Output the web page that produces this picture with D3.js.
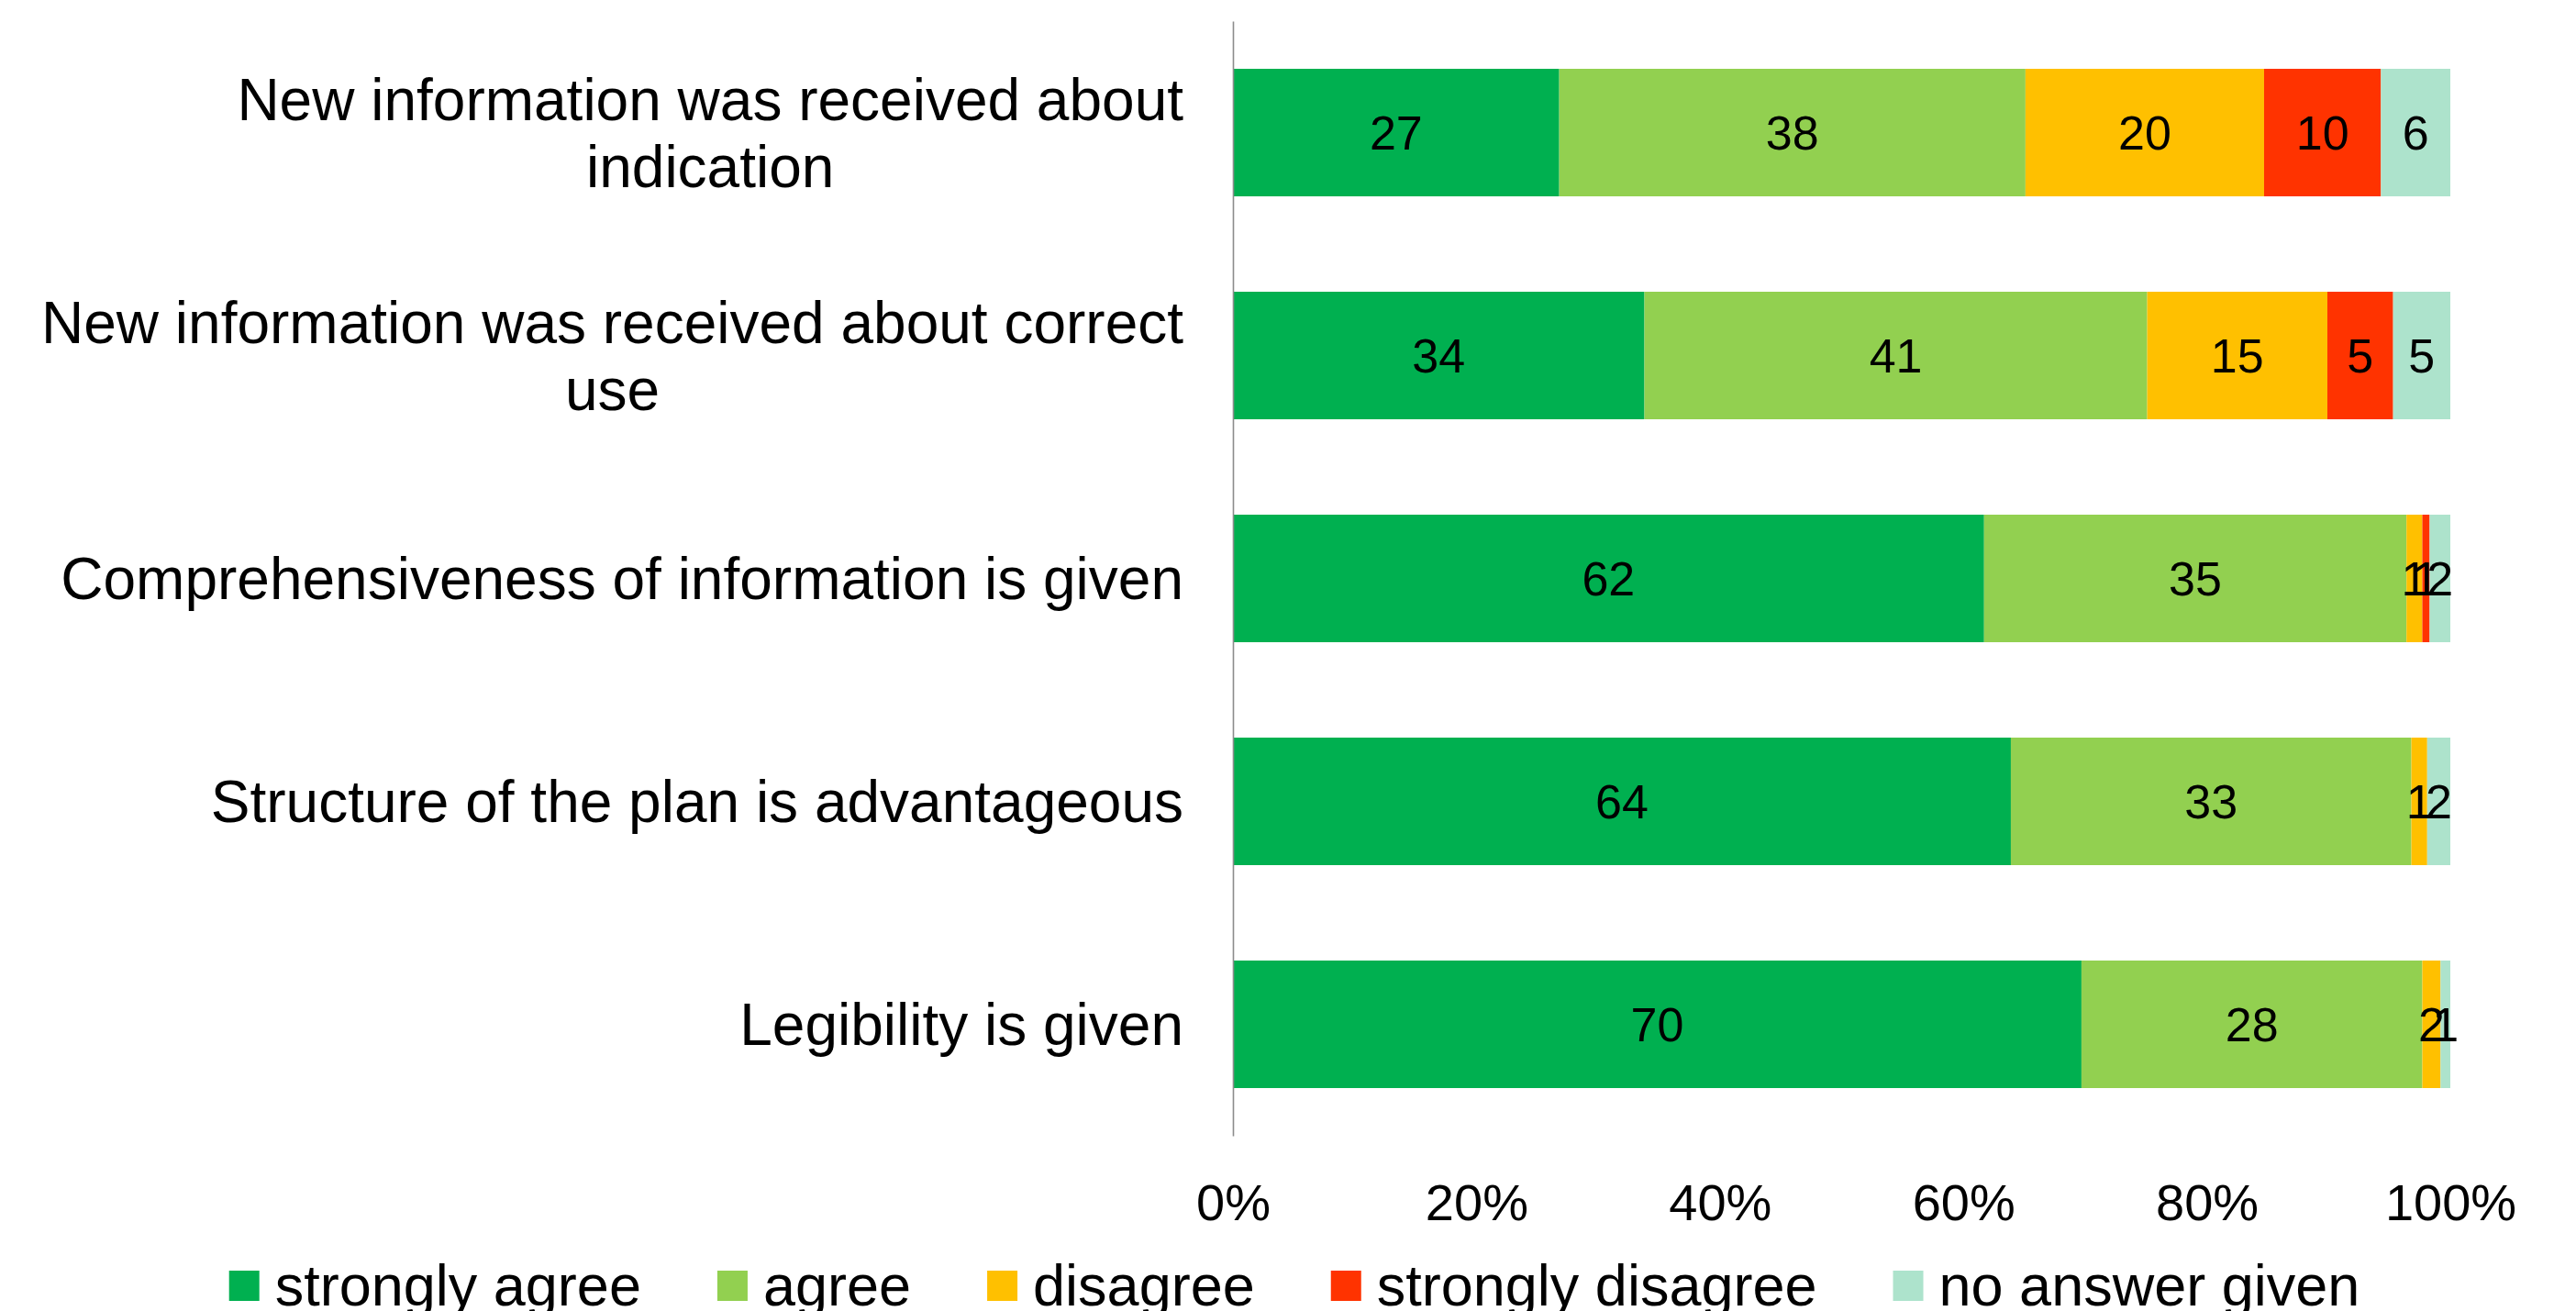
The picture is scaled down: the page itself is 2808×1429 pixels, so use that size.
<!DOCTYPE html>
<html>
<head>
<meta charset="utf-8">
<script src="https://cdn.jsdelivr.net/npm/d3@7"></script>
<style>
  html, body { margin: 0; padding: 0; background: #fff; }
  svg { display: block; }
  text { font-family: "Liberation Sans", Arial, Helvetica, sans-serif; fill: #000; }
</style>
</head>
<body>
<svg id="chart" width="2808" height="1429"></svg>
<script>
// ---- data ----
const categories = [
  "New information was received about indication",
  "New information was received about correct use",
  "Comprehensiveness of information is given",
  "Structure of the plan is advantageous",
  "Legibility is given"
];
const seriesNames = ["strongly agree", "agree", "disagree", "strongly disagree", "no answer given"];
const stronglyAgree    = [26.8, 33.8, 61.7, 63.9, 69.7];
const agree            = [38.3, 41.3, 34.7, 32.9, 28.0];
const disagree         = [19.6, 14.8, 1.3, 1.3, 1.5];
const stronglyDisagree = [9.6, 5.4, 0.6, 0, 0];
const noAnswer         = [5.7, 4.7, 1.7, 1.9, 0.8];
const seriesColors = ["#00B050", "#92D050", "#FFC000", "#FF3300", "#ADE3CC"];
const tickValues = [0, 0.2, 0.4, 0.6, 0.8, 1.0];
const tickLabels = ["0%", "20%", "40%", "60%", "80%", "100%"];

const seriesValues = [stronglyAgree, agree, disagree, stronglyDisagree, noAnswer];

// ---- build table ----
const rows = categories.map((c, i) => {
  const r = { category: c };
  seriesNames.forEach((s, j) => { r[s] = seriesValues[j][i]; });
  return r;
});
const totals = rows.map(r => d3.sum(seriesNames, s => r[s]));
const norm = rows.map((r, i) => {
  const o = { category: r.category };
  seriesNames.forEach(s => { o[s] = r[s] / totals[i]; });
  return o;
});
const stacked = d3.stack().keys(seriesNames)(norm);

// ---- layout ----
const svg = d3.select("#chart");
const x = d3.scaleLinear().domain([0, 1]).range([1344, 2671]);
const y = d3.scaleBand().domain(categories).range([23, 1238])
  .paddingInner(0.428).paddingOuter(0.214);
const color = d3.scaleOrdinal().domain(seriesNames).range(seriesColors);

// bars
const layers = svg.append("g").selectAll("g").data(stacked).join("g")
  .attr("fill", d => color(d.key));
layers.selectAll("rect").data(d => d).join("rect")
  .attr("x", d => x(d[0]))
  .attr("y", d => y(d.data.category))
  .attr("width", d => Math.max(0, x(d[1]) - x(d[0])))
  .attr("height", y.bandwidth());

// data labels
const labelG = svg.append("g");
stacked.forEach((layer, j) => {
  layer.forEach((d, i) => {
    const raw = seriesValues[j][i];
    if (raw <= 0) return;
    labelG.append("text")
      .attr("x", x((d[0] + d[1]) / 2))
      .attr("y", y(d.data.category) + y.bandwidth() / 2)
      .attr("dy", "0.36em")
      .attr("text-anchor", "middle")
      .style("font-size", "52px")
      .text(Math.round(raw));
  });
});

// y axis line
const yAxis = d3.axisLeft(y).tickSize(0).tickSizeOuter(0).tickFormat("");
const yg = svg.append("g").attr("transform", `translate(${x(0)},0)`).call(yAxis);
yg.select(".domain").attr("stroke", "#8c8c8c").attr("stroke-width", 1.6);

// x axis labels
const xAxis = d3.axisBottom(x).tickValues(tickValues)
  .tickFormat((d, i) => tickLabels[i]).tickSize(0);
const xg = svg.append("g").attr("transform", "translate(0,1238)").call(xAxis);
xg.select(".domain").remove();
xg.selectAll("text")
  .attr("y", 92).attr("dy", 0)
  .style("font-size", "56px")
  .style("font-family", '"Liberation Sans", Arial, sans-serif')
  .attr("fill", "#000");

// category labels (wrapped, lines centred, block right-aligned)
const catFont = 64, lineH = 73, rightEdge = 1290, maxW = 1275;
const measure = svg.append("text").style("font-size", catFont + "px");
function textW(t) { measure.text(t); return measure.node().getComputedTextLength(); }
categories.forEach(c => {
  const words = c.split(" ");
  const lines = [];
  let cur = "";
  words.forEach(w => {
    const test = cur ? cur + " " + w : w;
    if (cur && textW(test) > maxW) { lines.push(cur); cur = w; }
    else cur = test;
  });
  if (cur) lines.push(cur);
  const widths = lines.map(textW);
  const W = d3.max(widths);
  const cx = rightEdge - W / 2;
  const cy = y(c) + y.bandwidth() / 2;
  const base0 = cy + 0.358 * catFont - (lines.length - 1) * lineH / 2;
  lines.forEach((ln, k) => {
    svg.append("text")
      .attr("x", cx).attr("y", base0 + k * lineH)
      .attr("text-anchor", "middle")
      .style("font-size", catFont + "px")
      .text(ln);
  });
});
measure.remove();

// legend
const legFont = 63, sq = 33, gapSq = 17, gapItem = 83, legBase = 1423;
const legG = svg.append("g");
let lx = 0;
seriesNames.forEach((s, j) => {
  const g = legG.append("g");
  g.append("rect").attr("x", lx).attr("y", legBase - 38).attr("width", sq).attr("height", sq)
    .attr("fill", color(s));
  const t = g.append("text").attr("x", lx + sq + gapSq).attr("y", legBase)
    .style("font-size", legFont + "px").text(s);
  lx += sq + gapSq + t.node().getComputedTextLength() + gapItem;
});
const totalW = lx - gapItem;
legG.attr("transform", `translate(${1411 - totalW / 2},0)`);
</script>
</body>
</html>
